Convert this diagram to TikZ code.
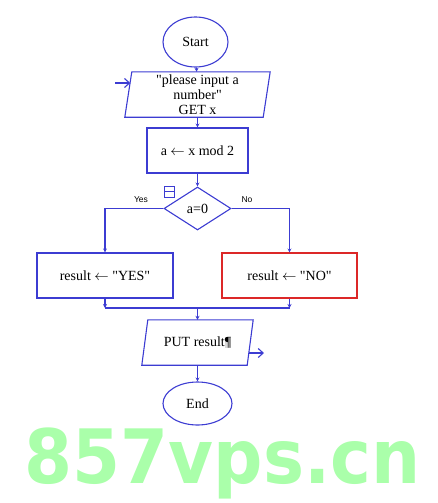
\documentclass[tikz,border=0pt]{standalone}
\usepackage{fontspec}
\setmainfont{Liberation Serif}
\newfontfamily\labfont{Liberation Sans}
\newfontfamily\wmfont{DejaVu Sans}
\usetikzlibrary{shapes.geometric,arrows.meta}
\definecolor{fcblue}{RGB}{60,60,210}
\definecolor{fcred}{RGB}{220,40,40}
\definecolor{wmgreen}{RGB}{170,255,170}
\begin{document}
\begin{tikzpicture}[x=1pt,y=-1pt,
  every node/.style={font=\fontsize{14}{15}\selectfont},
  line/.style={draw=fcblue,line width=1.1pt},
  flow/.style={line,-{Stealth[length=4pt,width=4pt]}},
  exitarr/.style={line,-{Straight Barb[length=5pt,width=9pt]}},
  term/.style={ellipse,line,inner sep=0pt},
  proc/.style={rectangle,line,inner sep=0pt},
  io/.style={rectangle,inner sep=0pt},
  dec/.style={diamond,line,inner sep=0pt},
  lab/.style={font=\labfont\fontsize{8.5}{10}\selectfont}
]
\useasboundingbox (0,0) rectangle (437,503);
% watermark
\node[anchor=base,text=wmgreen,font=\wmfont\bfseries\fontsize{75}{75}\selectfont,xscale=0.92,inner sep=0] (wm) at (222.5,483) {857vps.cn};

\node[term,minimum width=65pt,minimum height=50pt] (start) at (195.5,42) {Start};
\node[io,minimum width=138pt,minimum height=45pt,align=center] (input) at (197.5,94.5) {\textquotedbl please input a\\number\textquotedbl\\GET x};
\draw[line] ([xshift=-3.5pt]input.south west) -- ([xshift=-3.5pt]input.south east) -- ([xshift=3.5pt]input.north east) -- ([xshift=3.5pt]input.north west) -- cycle;
\node[proc,minimum width=101pt,minimum height=45pt] (calc) at (197.5,150.5) {a $\leftarrow$ x mod 2};
\node[dec,minimum width=67pt,minimum height=43pt] (cond) at (197.5,208.5) {a=0};
\node[proc,minimum width=136pt,minimum height=45pt] (yes) at (105,275.5) {result $\leftarrow$ \textquotedbl YES\textquotedbl};
\node[proc,draw=fcred,minimum width=135pt,minimum height=45pt] (no) at (289.5,275.5) {result $\leftarrow$ \textquotedbl NO\textquotedbl};
\node[io,minimum width=105pt,minimum height=45pt] (output) at (197.5,342.5) {PUT result{\setlength\fboxsep{0pt}\colorbox{black!15}{¶}}};
\draw[line] ([xshift=-3pt]output.south west) -- ([xshift=-3pt]output.south east) -- ([xshift=3pt]output.north east) -- ([xshift=3pt]output.north west) -- cycle;
\node[term,minimum width=69pt,minimum height=43pt] (end) at (197.5,403.5) {End};

\node[lab] (ylab) at (141,200) {Yes};
\node[lab] (nlab) at (247,200) {No};
\node[draw=fcblue,line width=0.9pt,minimum width=10pt,minimum height=11pt,inner sep=0pt] (icon) at (169.5,191.5) {};
\draw[fcblue,line width=0.9pt] (icon.west) -- (icon.east);

\coordinate (inL) at (115,83);
\coordinate (inR) at (130.3,83);
\coordinate (outL) at (248.6,353);
\coordinate (outR) at (264,353);
\coordinate (jL) at (105,308);
\coordinate (jR) at (289.5,308);
\coordinate (jM) at (197.5,308);

\draw[exitarr] (inL) -- (inR);
\draw[flow] (start) -- (input);
\draw[flow] (input) -- (calc);
\draw[flow] (calc) -- (cond);
\draw[flow] (cond.west) -| (yes.north);
\draw[flow] (cond.east) -| (no.north);
\draw[flow] (yes.south) -- (jL);
\draw[flow] (no.south) -- (jR);
\draw[line] (jL) -- (jR);
\draw[flow] (jM) -- (output.north);
\draw[exitarr] (outL) -- (outR);
\draw[flow] (output) -- (end);
\end{tikzpicture}
\end{document}
